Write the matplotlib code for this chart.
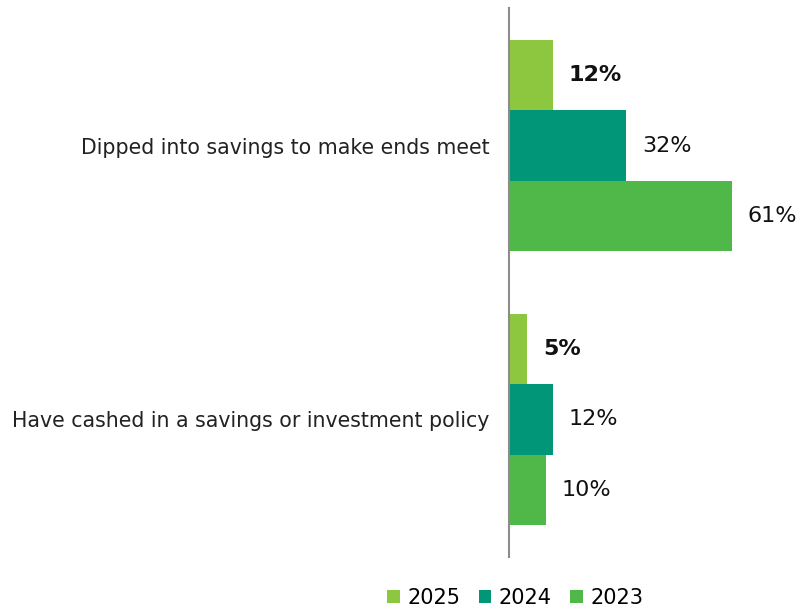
import matplotlib
matplotlib.use("Agg")
import matplotlib.pyplot as plt
import numpy as np

# 数据
categories = ["Dipped into savings to make ends meet",
              "Have cashed in a savings or investment policy"]
years = ["2025", "2024", "2023"]
values = {
    "2025": [12, 5],
    "2024": [32, 12],
    "2023": [61, 10],
}
colors = {"2025": "#8DC63F", "2024": "#009677", "2023": "#50B848"}

plt.rcParams['font.family'] = ['DejaVu Sans']

fig = plt.figure(figsize=(8, 6.1), dpi=100)
ax = fig.add_axes([509 / 800, 1 - 557 / 610, 291 / 800, 549 / 610])

h = 0.257
pos = np.arange(len(categories))
for i, yr in enumerate(years):
    y = pos + (i - 1) * h
    bars = ax.barh(y, values[yr], height=h, color=colors[yr], label=yr)
    for b, v in zip(bars, values[yr]):
        ax.annotate(f"{v}%", (b.get_width(), b.get_y() + b.get_height() / 2),
                    xytext=(11.5, 0), textcoords="offset points", va="center", ha="left",
                    fontsize=16, color="#111111",
                    fontweight="bold" if yr == "2025" else "normal")

ax.set_xlim(0, 79.6)
ax.set_ylim(1.502, -0.502)
ax.set_yticks(pos)
ax.set_yticklabels(categories, fontsize=14.8, color="#222222")
ax.tick_params(axis="y", length=0, pad=14)
ax.set_xticks([])
for s in ["top", "right", "bottom"]:
    ax.spines[s].set_visible(False)
ax.spines["left"].set_color("#8c8c8c")
ax.spines["left"].set_linewidth(1.5)

# 图例放在底部
leg = fig.legend(loc="center", bbox_to_anchor=(0.644, 1 - 598 / 610), ncol=3, frameon=False,
                 fontsize=15, handlelength=0.6, handleheight=0.6, handletextpad=0.35,
                 columnspacing=0.9)

fig.savefig("out.png", dpi=100, facecolor="white")
